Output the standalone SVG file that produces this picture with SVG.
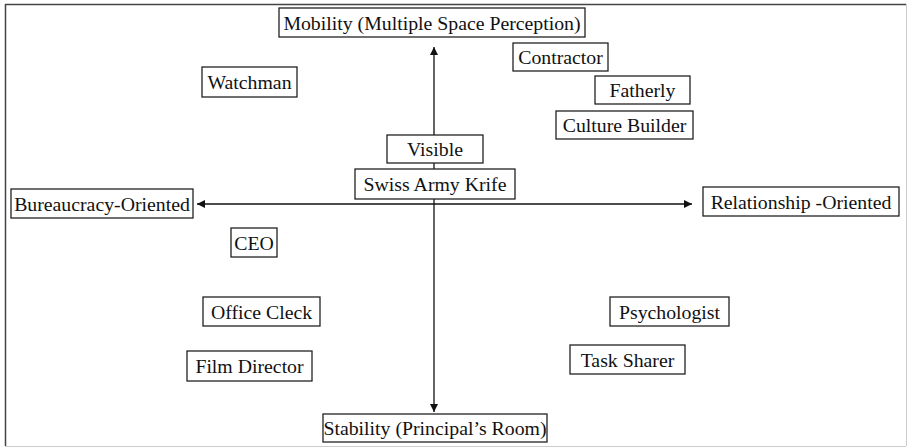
<svg xmlns="http://www.w3.org/2000/svg" width="909" height="448" viewBox="0 0 909 448">
<style>
.box{fill:#fff;stroke:#222;stroke-width:1.3}
.t{font-family:"Liberation Serif","Times New Roman",serif;font-size:19.8px;fill:#111;text-anchor:middle;dominant-baseline:central}
.ax{stroke:#111;stroke-width:1.3;fill:none}
</style>
<defs>
<marker id="ah" viewBox="0 0 10 10" refX="10" refY="5" markerWidth="10" markerHeight="8" markerUnits="userSpaceOnUse" orient="auto-start-reverse">
<path d="M0,0 L10,5 L0,10 Z" fill="#111"/>
</marker>
</defs>
<rect x="0" y="0" width="909" height="448" fill="#fff"/>
<line x1="5" y1="4.5" x2="906" y2="4.5" stroke="#444" stroke-width="1.5"/>
<line x1="5.5" y1="4" x2="5.5" y2="446" stroke="#444" stroke-width="1.5"/>
<line x1="5" y1="446.5" x2="906" y2="446.5" stroke="#ccc" stroke-width="1"/>
<line x1="906.5" y1="4" x2="906.5" y2="446" stroke="#ccc" stroke-width="1"/>
<g id="connectors">
<line class="ax" x1="434" y1="200" x2="434" y2="47" marker-end="url(#ah)"/>
<line class="ax" x1="434" y1="200" x2="434" y2="412" marker-end="url(#ah)"/>
<line class="ax" x1="197" y1="204" x2="692" y2="204" marker-start="url(#ah)" marker-end="url(#ah)"/>
</g>
<g id="mobility"><rect class="box" x="279" y="8" width="306" height="29"/><text class="t" x="432" y="23">Mobility (Multiple Space Perception)</text></g>
<g id="contractor"><rect class="box" x="513" y="43" width="95" height="28"/><text class="t" x="560.5" y="57">Contractor</text></g>
<g id="watchman"><rect class="box" x="202" y="67" width="95" height="30"/><text class="t" x="249.5" y="82">Watchman</text></g>
<g id="fatherly"><rect class="box" x="595" y="76" width="95" height="28"/><text class="t" x="642.5" y="90">Fatherly</text></g>
<g id="culture-builder"><rect class="box" x="556" y="111" width="137" height="28"/><text class="t" x="624.5" y="125">Culture Builder</text></g>
<g id="visible"><rect class="box" x="387" y="135" width="96" height="28"/><text class="t" x="435" y="149">Visible</text></g>
<g id="swiss-army"><rect class="box" x="355" y="169" width="160" height="30"/><text class="t" x="435" y="184">Swiss Army Krife</text></g>
<g id="bureaucracy"><rect class="box" x="11" y="189" width="182" height="29"/><text class="t" x="102" y="203.5">Bureaucracy-Oriented</text></g>
<g id="relationship"><rect class="box" x="703" y="187" width="196" height="29"/><text class="t" x="801" y="201.5">Relationship -Oriented</text></g>
<g id="ceo"><rect class="box" x="231" y="228" width="46" height="29"/><text class="t" x="254" y="242.5">CEO</text></g>
<g id="office-cleck"><rect class="box" x="203" y="297" width="117" height="29"/><text class="t" x="261.5" y="311.5">Office Cleck</text></g>
<g id="film-director"><rect class="box" x="187" y="351" width="125" height="30"/><text class="t" x="249.5" y="366">Film Director</text></g>
<g id="psychologist"><rect class="box" x="610" y="297" width="119" height="29"/><text class="t" x="669.5" y="311.5">Psychologist</text></g>
<g id="task-sharer"><rect class="box" x="570" y="345" width="115" height="29"/><text class="t" x="627.5" y="359.5">Task Sharer</text></g>
<g id="stability"><rect class="box" x="323" y="414" width="224" height="28"/><text class="t" x="435" y="428">Stability (Principal’s Room)</text></g>
</svg>
